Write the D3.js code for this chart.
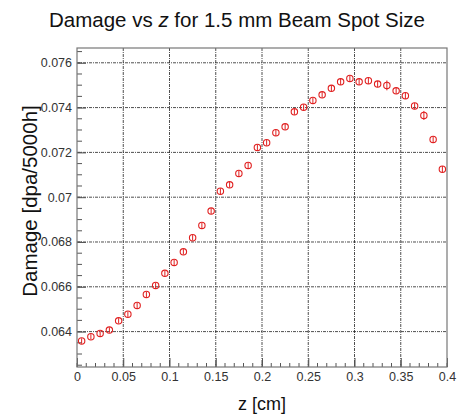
<!DOCTYPE html>
<html>
<head>
<meta charset="utf-8">
<script src="https://cdn.jsdelivr.net/npm/d3@7"></script>
<style>
  body { margin: 0; background: #fff; }
  text { font-family: "Liberation Sans", Arial, sans-serif; }
</style>
</head>
<body>
<script>
// z positions (cm), bin centres
var zVals = [0.005, 0.015, 0.025, 0.035, 0.045, 0.055, 0.065, 0.075, 0.085, 0.095,
             0.105, 0.115, 0.125, 0.135, 0.145, 0.155, 0.165, 0.175, 0.185, 0.195,
             0.205, 0.215, 0.225, 0.235, 0.245, 0.255, 0.265, 0.275, 0.285, 0.295,
             0.305, 0.315, 0.325, 0.335, 0.345, 0.355, 0.365, 0.375, 0.385, 0.395];
// damage (dpa/5000h)
var damage = [0.06358, 0.06377, 0.06392, 0.06407, 0.06448, 0.06478, 0.06517, 0.06566, 0.06606, 0.06660,
              0.06709, 0.06756, 0.06819, 0.06874, 0.06938, 0.07027, 0.07055, 0.07106, 0.07142, 0.07222,
              0.07243, 0.07288, 0.07314, 0.07381, 0.07402, 0.07432, 0.07457, 0.07486, 0.07515, 0.07530,
              0.07515, 0.07520, 0.07505, 0.07499, 0.07475, 0.07453, 0.07407, 0.07365, 0.07258, 0.07125];
// statistical errors
var errs = [0.00012, 0.00012, 0.00012, 0.00012, 0.00012, 0.00012, 0.00012, 0.00012, 0.00012, 0.00012,
            0.00012, 0.00012, 0.00012, 0.00012, 0.00013, 0.00013, 0.00013, 0.00013, 0.00013, 0.00013,
            0.00013, 0.00013, 0.00013, 0.00013, 0.00013, 0.00013, 0.00013, 0.00014, 0.00014, 0.00014,
            0.00014, 0.00014, 0.00014, 0.00022, 0.00014, 0.00014, 0.00014, 0.00020, 0.00014, 0.00014];

var xTicks = [0, 0.05, 0.1, 0.15, 0.2, 0.25, 0.3, 0.35, 0.4];
var yTicks = [0.064, 0.066, 0.068, 0.07, 0.072, 0.074, 0.076];

var data = zVals.map(function(z, i) { return {z: z, d: damage[i], e: errs[i]}; });

var W = 466, H = 416;
var margin = {top: 48, right: 19, bottom: 49, left: 77},
    width = W - margin.left - margin.right,
    height = H - margin.top - margin.bottom;

var svg = d3.select("body").append("svg")
  .attr("width", W)
  .attr("height", H);

var g = svg.append("g")
  .attr("transform", "translate(" + margin.left + "," + margin.top + ")");

var x = d3.scaleLinear().domain([0, 0.4]).range([0, width]);
var y = d3.scaleLinear().domain([0.06242, 0.07666]).range([height, 0]);

// grid
g.append("g").selectAll("line")
  .data(xTicks.slice(1, -1))
  .enter().append("line")
  .attr("x1", function(d) { return x(d); }).attr("x2", function(d) { return x(d); })
  .attr("y1", 0).attr("y2", height)
  .attr("stroke", "#222").attr("stroke-width", 0.8)
  .attr("stroke-dasharray", "3,1,1,1");
g.append("g").selectAll("line")
  .data(yTicks)
  .enter().append("line")
  .attr("y1", function(d) { return y(d); }).attr("y2", function(d) { return y(d); })
  .attr("x1", 0).attr("x2", width)
  .attr("stroke", "#222").attr("stroke-width", 0.8)
  .attr("stroke-dasharray", "3,1,1,1");

// minor ticks
var xMinor = d3.range(0, 0.4001, 0.01);
var yMinor = d3.range(0.0625, 0.0767, 0.0005);

g.append("g").selectAll("line")
  .data(xMinor)
  .enter().append("line")
  .attr("x1", function(d) { return x(d); }).attr("x2", function(d) { return x(d); })
  .attr("y1", height).attr("y2", height - 4)
  .attr("stroke", "#555");
g.append("g").selectAll("line")
  .data(yMinor)
  .enter().append("line")
  .attr("y1", function(d) { return y(d); }).attr("y2", function(d) { return y(d); })
  .attr("x1", 0).attr("x2", 5)
  .attr("stroke", "#555");

// axes
var xAxis = g.append("g")
  .attr("transform", "translate(0," + height + ")")
  .call(d3.axisBottom(x).tickValues(xTicks).tickSize(-9).tickPadding(5)
        .tickFormat(function(d) { return d === 0 ? "0" : d3.format("")(d); }));
var yAxis = g.append("g")
  .call(d3.axisLeft(y).tickValues(yTicks).tickSize(-9).tickPadding(5)
        .tickFormat(function(d) { return d3.format("")(+d.toFixed(3)); }));

[xAxis, yAxis].forEach(function(a) {
  a.select(".domain").remove();
  a.selectAll(".tick line").attr("stroke", "#555");
  a.selectAll(".tick text").attr("fill", "#333").style("font-size", "12.5px");
});

// frame
g.append("rect")
  .attr("width", width).attr("height", height)
  .attr("fill", "none").attr("stroke", "#777").attr("stroke-width", 1.2);

// error bars
g.append("g").selectAll("line")
  .data(data)
  .enter().append("line")
  .attr("x1", function(d) { return x(d.z); }).attr("x2", function(d) { return x(d.z); })
  .attr("y1", function(d) { return y(d.d - d.e); })
  .attr("y2", function(d) { return y(d.d + d.e); })
  .attr("stroke", "#e02020").attr("stroke-width", 1);

// markers
g.append("g").selectAll("circle")
  .data(data)
  .enter().append("circle")
  .attr("cx", function(d) { return x(d.z); })
  .attr("cy", function(d) { return y(d.d); })
  .attr("r", 3.2)
  .attr("fill", "none").attr("stroke", "#e02020").attr("stroke-width", 1.1);

// titles
var title = svg.append("text")
  .attr("x", 237).attr("y", 27)
  .attr("text-anchor", "middle")
  .attr("fill", "#111")
  .style("font-size", "20.5px");
title.append("tspan").text("Damage vs ");
title.append("tspan").style("font-style", "italic").text("z");
title.append("tspan").text(" for 1.5 mm Beam Spot Size");

svg.append("text")
  .attr("x", margin.left + width / 2).attr("y", 410)
  .attr("text-anchor", "middle")
  .attr("fill", "#111")
  .style("font-size", "18px")
  .text("z [cm]");

svg.append("text")
  .attr("transform", "translate(37,201)rotate(-90)")
  .attr("text-anchor", "middle")
  .attr("fill", "#111")
  .style("font-size", "20.5px")
  .text("Damage [dpa/5000h]");
</script>
</body>
</html>
